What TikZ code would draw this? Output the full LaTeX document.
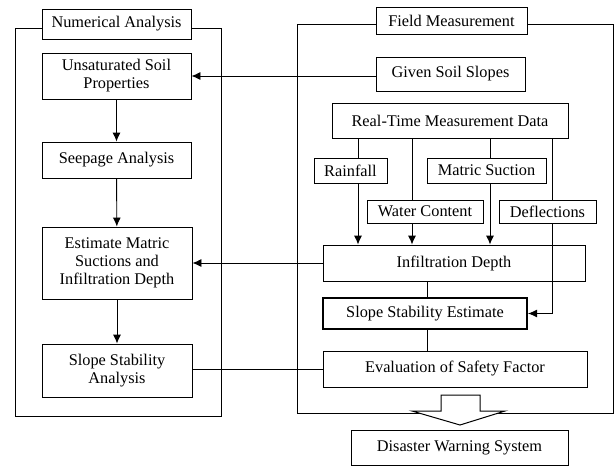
\documentclass[tikz,border=0pt]{standalone}
\usepackage{fontspec}
\setmainfont{Liberation Serif}
\usetikzlibrary{arrows.meta}
\begin{document}
\begin{tikzpicture}[x=1pt,y=-1pt,
  box/.style={draw,line width=0.9pt,fill=white,inner sep=0pt,align=center,
     font=\fontsize{16.3}{18}\selectfont},
  thickbox/.style={box,line width=2pt},
  frame/.style={draw,line width=0.9pt},
  link/.style={draw,line width=0.9pt},
  arr/.style={link,-{Latex[length=9pt,width=8pt]}}]
\useasboundingbox (0,0) rectangle (614,466);
% frames
\draw[frame] (15,28) rectangle (221,416);
\draw[frame] (297,24) rectangle (613,413);
% left column
\node[box,minimum width=149,minimum height=30] (na) at (116.5,24) {Numerical Analysis};
\node[box,minimum width=149,minimum height=46] (usp) at (116.5,76) {Unsaturated Soil\\Properties};
\node[box,minimum width=149,minimum height=36] (seep) at (116.5,160) {Seepage Analysis};
\node[box,minimum width=150,minimum height=72] (est) at (117,263) {Estimate Matric\\Suctions and\\Infiltration Depth};
\node[box,minimum width=150,minimum height=53] (ssa) at (117,370.5) {Slope Stability\\Analysis};
% right column
\node[box,minimum width=151,minimum height=27] (fm) at (451.5,20.5) {Field Measurement};
\node[box,minimum width=149,minimum height=34] (gss) at (450.5,74) {Given Soil Slopes};
\node[box,minimum width=236,minimum height=35] (rtmd) at (450,120.5) {Real-Time Measurement Data};
\node[box,minimum width=73,minimum height=25] (rain) at (350.5,170.5) {Rainfall};
\node[box,minimum width=119,minimum height=25] (ms) at (486.5,170.5) {Matric Suction};
\node[box,minimum width=116,minimum height=23] (wc) at (425,211.5) {Water Content};
\node[box,minimum width=97,minimum height=23] (defl) at (547.5,211.5) {Deflections};
\node[box,minimum width=262,minimum height=36] (inf) at (454,263) {Infiltration Depth};
\node[thickbox,minimum width=204,minimum height=31] (sse) at (425,313.5) {Slope Stability Estimate};
\node[box,minimum width=264,minimum height=36] (eval) at (455,369) {Evaluation of Safety Factor};
\node[box,minimum width=217,minimum height=35] (dws) at (459.5,447.5) {Disaster Warning System};
% left chain
\draw[arr] (usp) -- (seep);
\draw[arr] (seep) -- (est);
\draw[arr] (est) -- (ssa);
% cross links
\draw[arr] (usp.east -| gss.west) -- (usp.east);
\draw[arr] (inf.west) -- (inf.west -| est.east);
\draw[link] (eval.west) -- (eval.west -| ssa.east);
% measurement data branches
\draw[link] ([xshift=7.5pt]rain.north |- rtmd.south) -- ([xshift=7.5pt]rain.north);
\draw[arr] ([xshift=7.5pt]rain.south) -- ([xshift=7.5pt]rain.south |- inf.north);
\draw[link] ([xshift=-13pt]wc.north |- rtmd.south) -- ([xshift=-13pt]wc.north);
\draw[arr] ([xshift=-13pt]wc.south) -- ([xshift=-13pt]wc.south |- inf.north);
\draw[link] ([xshift=3.5pt]ms.north |- rtmd.south) -- ([xshift=3.5pt]ms.north);
\draw[arr] ([xshift=3.5pt]ms.south) -- ([xshift=3.5pt]ms.south |- inf.north);
\draw[link] ([xshift=4.5pt]defl.north |- rtmd.south) -- ([xshift=4.5pt]defl.north);
\draw[arr] ([xshift=4.5pt]defl.south) |- (sse.east);
\draw[link] ([xshift=2pt]sse.north |- inf.south) -- ([xshift=2pt]sse.north);
\draw[link] ([xshift=2pt]sse.south) -- ([xshift=2pt]sse.south |- eval.north);
% hollow arrow to warning system
\draw[line width=1pt,fill=white,line join=miter]
  (441,395) -- (480,395) -- (480,411) -- (505,411) -- (460,425) -- (412,411) -- (441,411) -- cycle;
\end{tikzpicture}
\end{document}
